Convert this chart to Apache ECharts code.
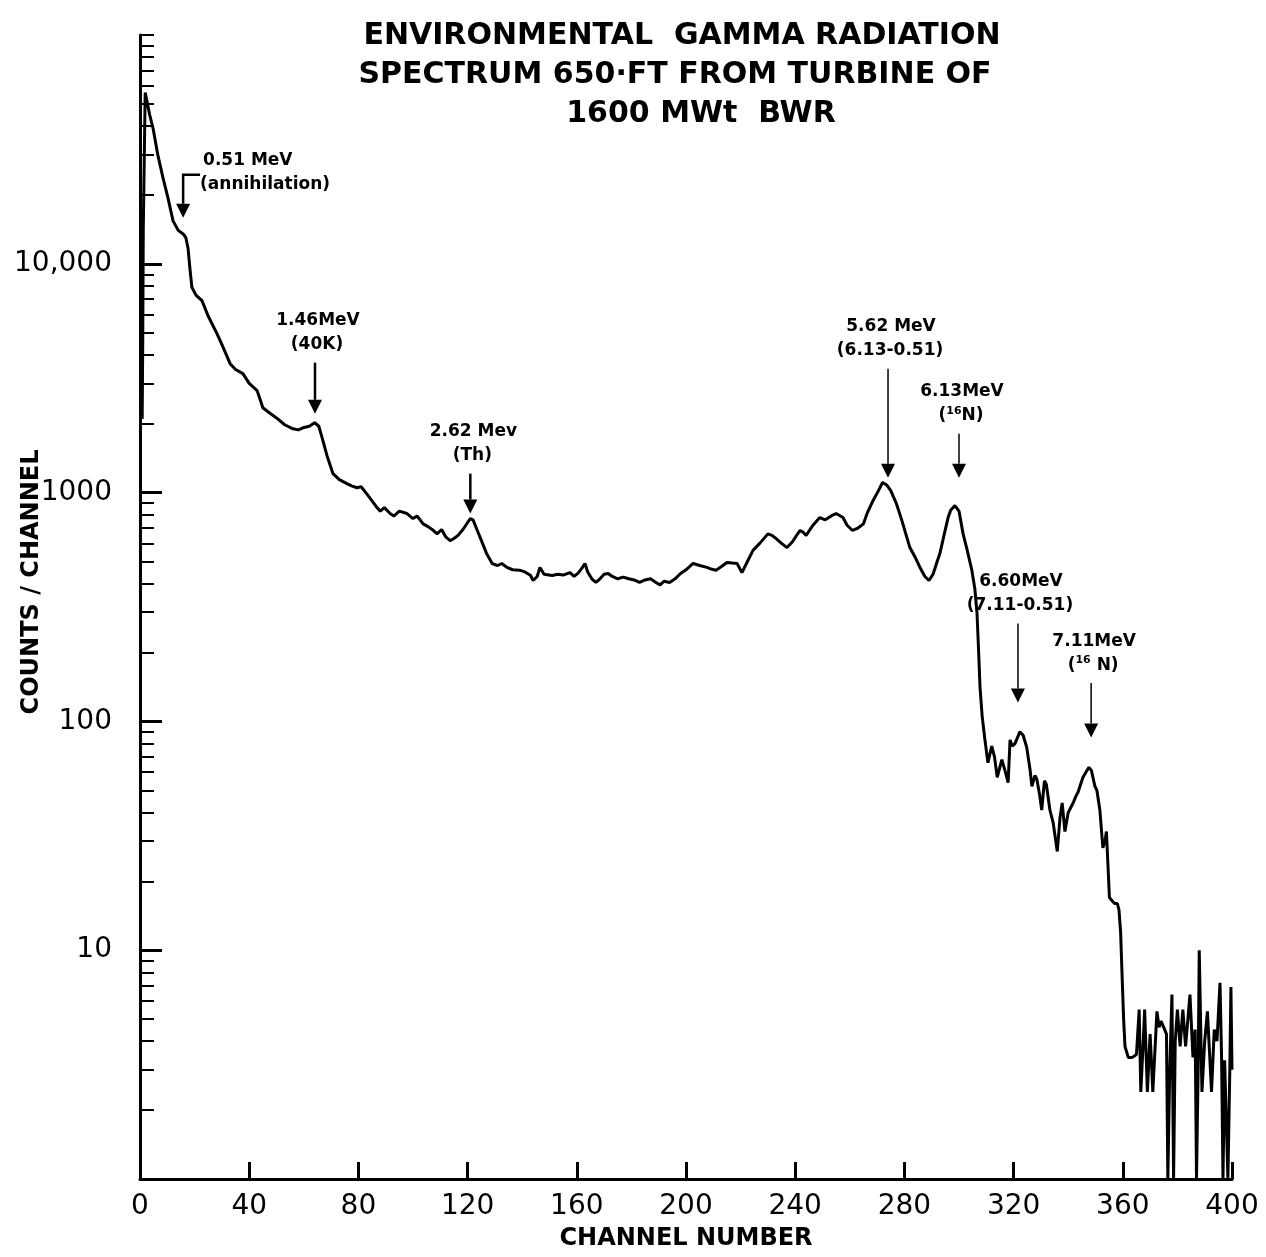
<!DOCTYPE html>
<html>
<head>
<meta charset="utf-8">
<title>Environmental gamma radiation spectrum</title>
<script src="https://cdn.jsdelivr.net/npm/echarts@6/dist/echarts.min.js"></script>
<style>
  html, body { margin: 0; padding: 0; background: #fff; }
  #chart { width: 1266px; height: 1257px; }
</style>
</head>
<body>
<div id="chart"></div>
<script>
// spectrum (channel number, counts per channel)
const channels = [
  0.8, 1.0, 1.2, 1.9, 2.6, 3.5, 4.8, 6.5, 8.4, 10.2, 12.1, 14.0, 15.8, 16.8, 17.6, 18.3, 19.0, 20.5, 22.7, 25.0,
  28.2, 30.5, 33.0, 35.0, 37.7, 40.0, 42.9, 44.0, 45.0, 47.0, 50.0, 53.0, 56.0, 58.0, 59.7, 62.0, 64.0, 65.5, 66.7, 68.5,
  70.7, 73.0, 75.8, 77.5, 79.5, 81.0, 83.0, 85.0, 86.8, 88.0, 89.5, 91.6, 93.0, 95.0, 97.8, 100.0, 101.5, 103.7, 105.5, 107.0,
  108.8, 110.5, 112.0, 113.6, 115.0, 116.5, 118.3, 120.0, 121.0, 122.0, 123.4, 125.0, 127.0, 129.0, 131.0, 132.5, 134.4, 136.5, 139.0, 141.0,
  143.0, 144.0, 145.5, 146.5, 148.0, 151.0, 153.0, 155.0, 157.5, 159.0, 160.5, 162.0, 163.0, 164.0, 165.5, 167.0, 168.5, 170.0, 171.5, 173.0,
  175.0, 177.0, 179.0, 181.0, 183.0, 185.0, 187.0, 189.0, 190.5, 192.0, 194.0, 196.0, 198.0, 200.0, 202.6, 205.0, 207.7, 209.5, 211.0, 213.0,
  215.0, 217.0, 218.7, 220.5, 222.5, 224.5, 227.0, 230.0, 231.5, 233.0, 235.0, 237.0, 239.0, 240.5, 241.8, 243.0, 244.0, 246.5, 249.0, 251.0,
  253.5, 255.0, 257.5, 259.0, 261.0, 263.0, 265.0, 266.5, 268.5, 270.5, 272.0, 273.5, 275.0, 277.0, 279.0, 282.0, 284.0, 285.7, 287.5, 289.0,
  290.5, 292.0, 293.0, 294.5, 296.0, 297.0, 298.5, 300.0, 301.5, 303.0, 304.7, 305.8, 306.6, 307.2, 307.7, 308.5, 309.5, 310.6, 312.0, 313.0,
  314.0, 315.7, 317.0, 318.0, 318.7, 319.5, 320.5, 322.3, 323.5, 324.8, 326.0, 326.7, 327.8, 328.5, 329.5, 330.3, 331.3, 332.0, 333.3, 334.5,
  336.0, 337.0, 337.8, 338.8, 340.0, 341.8, 342.8, 343.6, 345.4, 346.5, 347.6, 348.5, 349.8, 350.5, 351.6, 352.7, 353.5, 354.0, 354.6, 355.1,
  356.0, 357.0, 358.0, 358.6, 359.2, 359.7, 360.3, 360.8, 362.0, 363.5, 365.0, 366.0, 366.6, 367.5, 368.0, 369.0, 370.0, 371.0, 372.5, 373.3,
  374.0, 375.0, 376.0, 376.5, 377.2, 378.0, 378.6, 379.2, 380.0, 381.0, 382.0, 383.0, 384.6, 385.7, 386.5, 387.0, 387.6, 388.0, 389.0, 390.0,
  391.0, 392.5, 393.5, 394.5, 395.6, 396.2, 396.7, 397.3, 398.0, 398.5, 399.2, 399.6, 400.0
];
const counts = [
  2100, 4500, 14000, 56000, 51000, 45000, 39000, 30000, 23800, 19500, 15400, 14000, 13500, 13000, 11700, 9500, 7900, 7300, 6900, 5900,
  4950, 4300, 3660, 3450, 3310, 3000, 2790, 2550, 2350, 2250, 2120, 1980, 1900, 1880, 1920, 1950, 2020, 1950, 1740, 1450,
  1210, 1140, 1095, 1070, 1050, 1060, 990, 920, 860, 830, 860, 810, 790, 830, 810, 770, 790, 730, 710, 690,
  660, 690, 640, 617, 630, 650, 690, 740, 770, 760, 690, 620, 540, 490, 480, 490, 471, 460, 458, 450,
  435, 413, 430, 471, 440, 434, 440, 436, 447, 430, 445, 470, 490, 450, 420, 405, 420, 440, 443, 430,
  420, 427, 420, 415, 405, 415, 420, 405, 395, 410, 405, 420, 443, 460, 490, 480, 471, 462, 458, 475,
  495, 492, 490, 447, 500, 558, 600, 660, 650, 630, 600, 575, 610, 650, 683, 670, 650, 720, 778, 760,
  795, 810, 778, 720, 683, 700, 730, 820, 922, 1020, 1107, 1080, 1020, 900, 760, 575, 520, 471, 430, 413,
  440, 500, 542, 650, 778, 840, 877, 830, 660, 560, 458, 380, 297, 200, 141, 105, 83, 66, 78, 70,
  57, 68, 60, 54, 83, 78, 80, 90, 87, 77, 62, 52, 58, 56, 48, 41, 55, 53, 41, 36,
  27, 38, 44, 33, 40, 44, 47, 49, 57, 60, 63, 61, 52, 50, 41, 28, 30, 33, 23, 17,
  16.5, 16, 16, 15, 12, 8, 5, 3.8, 3.4, 3.4, 3.5, 5.5, 2.4, 4.0, 5.5, 2.4, 4.3, 2.4, 5.4, 4.6,
  4.9, 4.6, 4.3, 1, 3.0, 6.4, 1, 4.0, 5.5, 3.8, 5.5, 3.8, 6.4, 3.4, 4.5, 1, 3.0, 10, 2.4, 4.0,
  5.4, 2.4, 4.5, 4.0, 7.2, 3.3, 1, 3.3, 3.3, 1, 3.0, 6.9, 3.0
];

// axis ticks
const xTicks = [0, 40, 80, 120, 160, 200, 240, 280, 320, 360, 400];
const yMajorTicks = [10, 100, 1000, 10000];
const yMinorTicks = [];
[1, 10, 100, 1000, 10000].forEach(d => {
  for (let k = 2; k <= 9; k++) yMinorTicks.push(k * d);
});
yMinorTicks.push(100000);

// peak markers: channel, arrow tip / tail in counts, label lines
const peakChannel = [15.8, 64.1, 121, 274, 300, 321.6, 348.4];
const peakTip = [15900, 2210, 810, 1160, 1160, 121, 85];
const peakTail = [24500, 3700, 1210, 3480, 1810, 268, 147];
const peakName = ['0.51 MeV', '1.46MeV', '2.62 Mev', '5.62 MeV', '6.13MeV', '6.60MeV', '7.11MeV'];
const peakSource = ['(annihilation)', '(40K)', '(Th)', '(6.13-0.51)', '({sup|16}N)', '(7.11-0.51)', '({sup|16} N)'];

const font = 'DejaVu Sans';
const spectrum = channels.map((c, i) => [c, counts[i]]);

const chart = echarts.init(document.getElementById('chart'));

const option = {
  animation: false,
  backgroundColor: '#fff',
  grid: { left: 140, right: 34, top: 35, bottom: 78 },
  xAxis: {
    type: 'value',
    min: 0,
    max: 400,
    interval: 40,
    axisLine: { lineStyle: { color: '#000', width: 3 } },
    axisTick: { inside: true, length: 17, lineStyle: { color: '#000', width: 3 } },
    axisLabel: { color: '#000', fontSize: 28, fontFamily: font, margin: 14 },
    splitLine: { show: false },
    name: 'CHANNEL NUMBER',
    nameLocation: 'middle',
    nameGap: 48,
    nameTextStyle: { color: '#000', fontSize: 24, fontWeight: 'bold', fontFamily: font }
  },
  yAxis: [
    {
      type: 'log',
      logBase: 10,
      min: 1,
      max: 100000,
      axisLine: { lineStyle: { color: '#000', width: 3 } },
      axisTick: { inside: true, length: 22, customValues: yMajorTicks, lineStyle: { color: '#000', width: 3 } },
      axisLabel: {
        customValues: yMajorTicks,
        color: '#000', fontSize: 28, fontFamily: font, margin: 28,
        formatter: v => (v === 10000 ? '10,000' : String(v))
      },
      splitLine: { show: false }
    },
    {
      type: 'log',
      logBase: 10,
      min: 1,
      max: 100000,
      position: 'left',
      axisLine: { show: false },
      axisTick: { inside: true, length: 14, customValues: yMinorTicks, lineStyle: { color: '#000', width: 2 } },
      axisLabel: { show: false },
      splitLine: { show: false }
    }
  ],
  series: [{
    type: 'line',
    data: spectrum,
    showSymbol: false,
    lineStyle: { color: '#000', width: 3 },
    z: 5
  }]
};
chart.setOption(option);

// title, y name and peak arrows
const elements = [
  { type: 'text', x: 682, y: 36, style: { text: 'ENVIRONMENTAL  GAMMA RADIATION', fill: '#000', fontSize: 30, fontWeight: 'bold', fontFamily: font, align: 'center', verticalAlign: 'middle' } },
  { type: 'text', x: 675, y: 75, style: { text: 'SPECTRUM 650·FT FROM TURBINE OF', fill: '#000', fontSize: 30, fontWeight: 'bold', fontFamily: font, align: 'center', verticalAlign: 'middle' } },
  { type: 'text', x: 701, y: 114, style: { text: '1600 MWt  BWR', fill: '#000', fontSize: 30, fontWeight: 'bold', fontFamily: font, align: 'center', verticalAlign: 'middle' } },
  { type: 'text', x: 32, y: 582, rotation: Math.PI / 2, style: { text: 'COUNTS / CHANNEL', fill: '#000', fontSize: 24, fontWeight: 'bold', fontFamily: font, align: 'center', verticalAlign: 'middle' } }
];

const labelStyle = (text, align) => ({
  text: text,
  fill: '#000',
  fontSize: 17,
  fontWeight: 'bold',
  fontFamily: font,
  align: align,
  verticalAlign: 'middle',
  rich: { sup: { fontSize: 11, fontWeight: 'bold', fontFamily: font, padding: [0, 0, 9, 0] } }
});

peakChannel.forEach((ch, i) => {
  const tip = chart.convertToPixel({ seriesIndex: 0 }, [ch, peakTip[i]]);
  const tail = chart.convertToPixel({ seriesIndex: 0 }, [ch, peakTail[i]]);
  const lw = i < 3 ? 2.5 : 1.5;
  const head = 14;
  if (i === 0) {
    const right = chart.convertToPixel({ seriesIndex: 0 }, [22, peakTail[i]])[0];
    elements.push({ type: 'polyline', shape: { points: [[right, tail[1]], [tip[0], tail[1]], [tip[0], tip[1] - head]] }, style: { stroke: '#000', lineWidth: lw, fill: null } });
    elements.push({ type: 'text', x: right + 3, y: tail[1] - 14, style: labelStyle(peakName[i], 'left') });
    elements.push({ type: 'text', x: right, y: tail[1] + 10, style: labelStyle(peakSource[i], 'left') });
  } else {
    elements.push({ type: 'line', shape: { x1: tip[0], y1: tail[1], x2: tip[0], y2: tip[1] - head }, style: { stroke: '#000', lineWidth: lw } });
    elements.push({ type: 'text', x: tip[0] + 3, y: tail[1] - 42, style: labelStyle(peakName[i], 'center') });
    elements.push({ type: 'text', x: tip[0] + 2, y: tail[1] - 18, style: labelStyle(peakSource[i], 'center') });
  }
  elements.push({ type: 'polygon', shape: { points: [[tip[0] - 7, tip[1] - head], [tip[0] + 7, tip[1] - head], [tip[0], tip[1]]] }, style: { fill: '#000' } });
});

chart.setOption({ graphic: elements });
</script>
</body>
</html>
